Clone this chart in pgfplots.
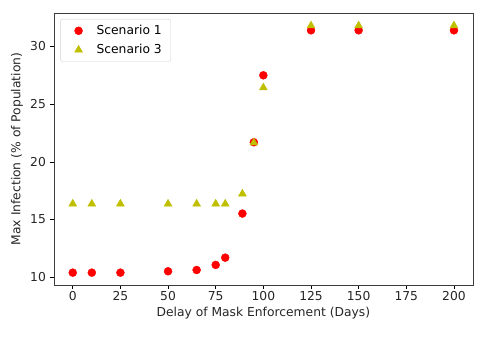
\documentclass[border=0pt]{standalone}
\usepackage{pgfplots}
\pgfplotsset{compat=1.18}
\usepackage{fontspec}
\setmainfont{DejaVu Sans}
\definecolor{mplred}{RGB}{255,0,0}
\definecolor{mplyellow}{RGB}{191,191,0}
\definecolor{spine}{RGB}{60,60,60}
\newcommand{\mplfont}{\fontsize{12.3bp}{14bp}\selectfont}

\begin{document}
\mplfont
\begin{tikzpicture}
\begin{axis}[
  at={(0,0)}, anchor=south west,
  scale only axis,
  width=419.3bp, height=272bp,
  xmin=-10, xmax=210,
  ymin=9.33, ymax=32.9,
  xtick={0,25,50,75,100,125,150,175,200},
  ytick={10,15,20,25,30},
  tick align=outside,
  tick pos=left,
  major tick length=3.5bp,
  axis line style={draw=spine},
  tick style={draw=black, line width=0.6pt},
  /pgf/number format/assume math mode=true,
  ticklabel style={font=\mplfont, text=black!85},
  xticklabel style={yshift=1bp},
  xlabel={Delay of Mask Enforcement (Days)},
  ylabel={Max Infection (\% of Population)},
  label style={font=\mplfont, text=black!85},
  xlabel style={yshift=2bp},
  ylabel style={yshift=-1bp},
  legend style={at={(0.016,0.978)}, anchor=north west, draw=black!18,
    rounded corners=2pt, font=\mplfont,
    inner xsep=7bp, inner ysep=4bp, row sep=4bp},
  legend image code/.code={\path (0cm,0cm);
    \draw[#1] plot coordinates {(0.38cm,0cm)};},
  legend cell align=left,
]
\addplot[only marks, mark=*, mark size=4bp, color=mplred] coordinates {
  (0,10.4) (10,10.4) (25,10.4) (50,10.52) (65,10.63) (75,11.07) (80,11.7)
  (89,15.52) (95,21.7) (100,27.5) (125,31.4) (150,31.4) (200,31.4)
};
\addlegendentry{\hspace{12bp}Scenario 1}
\addplot[only marks, mark=triangle*, mark size=4.6bp, color=mplyellow] coordinates {
  (0,16.36) (10,16.36) (25,16.36) (50,16.36) (65,16.36) (75,16.36) (80,16.36)
  (89,17.23) (95,21.66) (100,26.43) (125,31.8) (150,31.8) (200,31.8)
};
\addlegendentry{\hspace{12bp}Scenario 3}
\end{axis}
\path (-53.7bp,-52bp) rectangle (436.3bp,285bp);
\end{tikzpicture}
\end{document}
